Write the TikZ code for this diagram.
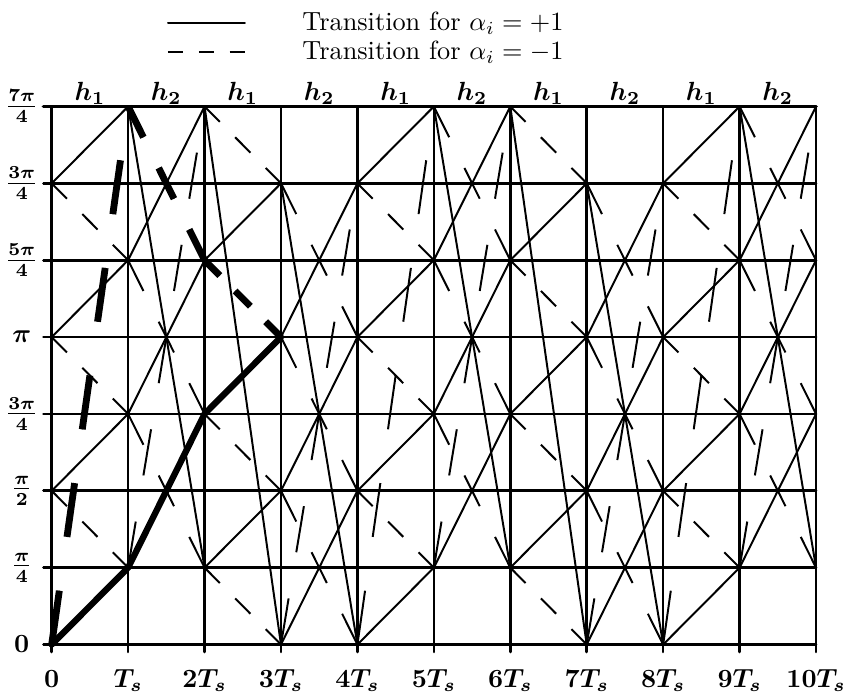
\documentclass[tikz,border=0pt]{standalone}
\usepackage{amsmath}
\usepackage{tikz}
\usetikzlibrary{positioning}
\tikzset{
  gridln/.style={line width=1pt},
  topln/.style={line width=1.4pt},
  plusln/.style={line width=0.75pt},
  minusln/.style={line width=0.75pt, line cap=butt},
  pathln/.style={line width=2.4pt},
  dpathln/.style={line width=2.6pt, line cap=butt},
  lbl/.style={inner sep=1pt, font=\boldmath},
  every picture/.style={line cap=round, line join=round}
}

\begin{document}
\begin{tikzpicture}[x=1.0219cm, y=1.0276cm]
    \useasboundingbox (-0.691cm,-0.648cm) rectangle (10.593cm,8.617cm);

    % phase states
    \foreach \k in {0,...,10}
      \foreach \j in {0,...,7}
        \coordinate (s\k-\j) at (\k,\j);

    % grid
    \foreach \j in {0,...,6}
      \draw[gridln] ([xshift=-0.11cm]s0-\j) -- (s10-\j);
    \draw[topln] ([xshift=-0.11cm]s0-7) -- (s10-7);
    \foreach \k in {0,...,10}
      \draw[gridln] ([yshift=-0.1cm]s\k-0) -- (s\k-7);

    % transitions
    \foreach \k in {0,...,9} {
      \pgfmathtruncatemacro\kk{\k+1}
      \pgfmathtruncatemacro\dl{mod(\k,2)+1}
      \pgfmathtruncatemacro\pr{mod(\k+3,4)<2 ? 1 : 0}
      \foreach \j in {0,...,7} {
        \pgfmathtruncatemacro\jp{mod(\j,2)}
        \ifnum\jp=\pr
          \pgfmathtruncatemacro\sUp{mod(\j+\dl,8)}
          \pgfmathtruncatemacro\sDn{mod(\j-\dl+8,8)}
          \pgfmathtruncatemacro\dy{abs(\sDn-\j)}
          \pgfmathsetmacro\dd{veclen(1.0219,1.0276*\dy)/(\dy>2 ? 10 : 5)}
          \draw[plusln] (s\k-\j) -- (s\kk-\sUp);
          \draw[minusln, dash pattern=on \dd cm off \dd cm] (s\k-\j) -- (s\kk-\sDn);
        \fi
      }
    }

    % the two merging paths
    \draw[pathln] (s0-0) -- (s1-1) -- (s2-3) -- (s3-4);
    \draw[dpathln, dash pattern=on 0.7265cm off 0.7265cm] (s0-0) -- (s1-7);
    \draw[dpathln, dash pattern=on 0.459cm off 0.459cm] (s1-7) -- (s2-5);
    \draw[dpathln, dash pattern=on 0.2898cm off 0.2898cm] (s2-5) -- (s3-4);

    % axis labels
    \foreach \k/\t in {0/0, 1/T_s, 2/2T_s, 3/3T_s, 4/4T_s, 5/5T_s, 6/6T_s, 7/7T_s, 8/8T_s, 9/9T_s, 10/10T_s}
      \node[lbl, anchor=base] (xl\k) at ([yshift=-0.58cm]s\k-0) {$\t$};
    \foreach \j/\t in {0/0, 1/\frac{\pi}{4}, 2/\frac{\pi}{2}, 3/\frac{3\pi}{4}, 4/\pi, 5/\frac{5\pi}{4}, 6/\frac{3\pi}{4}, 7/\frac{7\pi}{4}}
      \node[lbl] (yl\j) at ([xshift=-0.40cm]s0-\j) {$\t$};
    \foreach \k in {0,...,9} {
      \pgfmathtruncatemacro\hh{mod(\k,2)+1}
      \node[lbl, anchor=base] (hl\k) at ([yshift=0.08cm]\k+0.5,7) {$h_{\hh}$};
    }

    % legend
    \coordinate (solA) at (1.555cm,8.309cm);
    \coordinate (solB) at (2.584cm,8.309cm);
    \coordinate (dasA) at (1.555cm,7.922cm);
    \coordinate (dasB) at (2.584cm,7.922cm);
    \draw[plusln] (solA) -- (solB);
    \draw[minusln, dash pattern=on 0.206cm off 0.206cm] (dasA) -- (dasB);
    \node[right=0.645cm of solB] (legp) {Transition for $\alpha_i=+1$};
    \node[right=0.645cm of dasB] (legm) {Transition for $\alpha_i=-1$};
\end{tikzpicture}
\end{document}
